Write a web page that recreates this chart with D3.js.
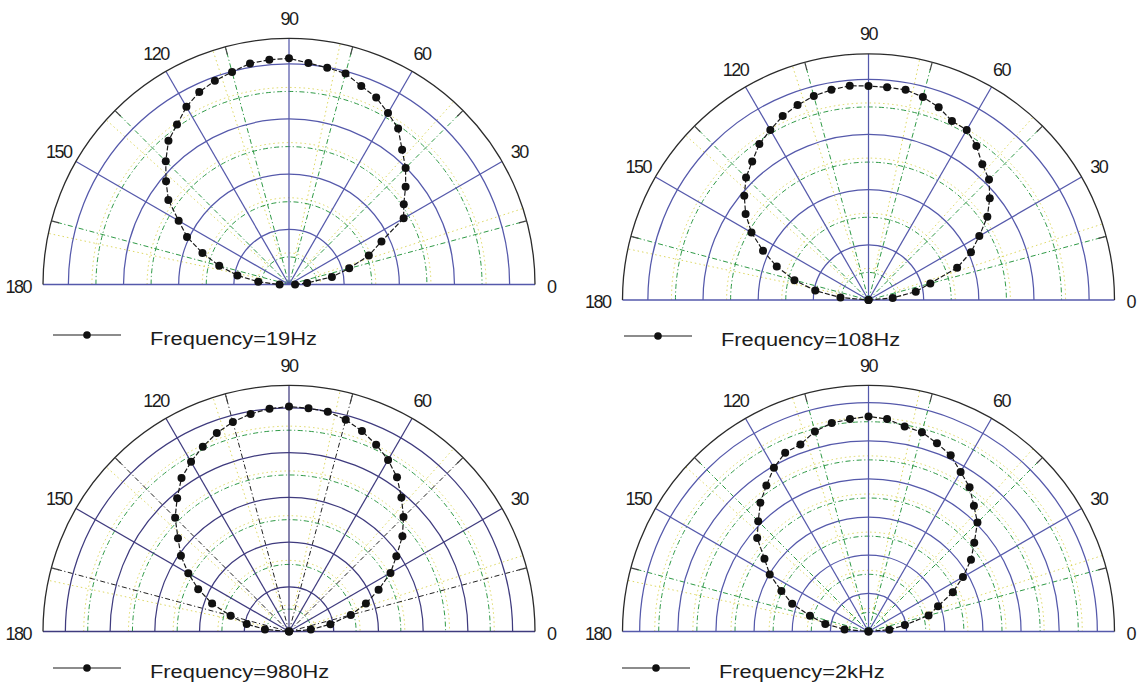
<!DOCTYPE html>
<html>
<head>
<meta charset="utf-8">
<script src="https://cdn.jsdelivr.net/npm/d3@7"></script>
<style>
  html, body { margin: 0; padding: 0; background: #fff; }
  svg { display: block; }
  text { font-family: "Liberation Sans", Arial, sans-serif; fill: #1c1c1c; }
</style>
</head>
<body>
<svg id="chart" width="1140" height="686"></svg>
<script>
// measurement angles (degrees)
var angles = [0, 5, 10, 15, 20, 25, 30, 35, 40, 45, 50, 55, 60, 65, 70, 75, 80, 85, 90,
              95, 100, 105, 110, 115, 120, 125, 130, 135, 140, 145, 150, 155, 160, 165, 170, 175, 180];
var angleTicks = [0, 30, 60, 90, 120, 150, 180];
var angleTickLabels = ["0", "30", "60", "90", "120", "150", "180"];
var minorAngles = [15, 45, 75, 105, 135, 165];

// radial grid of each panel (rings) and the outer limit
var rings19Hz = [1, 2, 3, 4], rMax19Hz = 4.46;
var rings108Hz = [1, 2, 3, 4], rMax108Hz = 4.46;
var rings980Hz = [1, 2, 3, 4, 5], rMax980Hz = 5.5;
var rings2kHz = [1, 2, 3, 4, 5, 6], rMax2kHz = 6.45;

var r19Hz = [0.11, 0.33, 0.79, 1.13, 1.54, 1.85, 2.40, 2.54, 2.76, 2.99, 3.19, 3.45, 3.59, 3.74, 3.83, 3.96, 3.99, 4.03, 4.10,
             4.09, 4.07, 3.99, 3.93, 3.85, 3.72, 3.54, 3.40, 3.16, 2.91, 2.67, 2.31, 2.04, 1.67, 1.31, 0.95, 0.56, 0.17];
var r108Hz = [0, 0.44, 0.87, 1.16, 1.71, 2.05, 2.32, 2.63, 2.87, 3.09, 3.21, 3.41, 3.56, 3.58, 3.72, 3.81, 3.87, 3.87, 3.88,
              3.90, 3.87, 3.83, 3.76, 3.68, 3.56, 3.45, 3.28, 3.14, 2.94, 2.72, 2.45, 2.11, 1.77, 1.39, 0.98, 0.51, 0];
var r980Hz = [0, 0.49, 0.94, 1.43, 1.83, 2.21, 2.62, 2.93, 3.31, 3.62, 3.91, 4.21, 4.43, 4.61, 4.77, 4.90, 4.99, 5.01, 5.03,
              5.00, 4.94, 4.85, 4.72, 4.56, 4.38, 4.19, 3.89, 3.60, 3.24, 2.95, 2.60, 2.24, 1.83, 1.35, 0.96, 0.54, 0];
var r2kHz = [0, 0.55, 0.97, 1.63, 1.94, 2.44, 2.86, 3.28, 3.62, 4.04, 4.30, 4.62, 4.83, 5.10, 5.25, 5.41, 5.46, 5.59, 5.64,
             5.59, 5.55, 5.43, 5.22, 5.17, 4.96, 4.67, 4.41, 4.09, 3.81, 3.33, 2.99, 2.52, 2.13, 1.59, 1.15, 0.63, 0];

var legendNames = ["Frequency=19Hz", "Frequency=108Hz", "Frequency=980Hz", "Frequency=2kHz"];

var svg = d3.select("#chart");
var R = 246;

function renderPolar(opts) {
    var g = svg.append("g")
        .attr("transform", "translate(" + opts.cx + "," + opts.cy + ")");

    var r = d3.scaleLinear().domain([0, opts.rMax]).range([0, R]);
    // polar angle (ccw from +x) -> d3 radial angle (cw from top)
    var toRad = function(deg) { return (90 - deg) * Math.PI / 180; };
    var spoke = d3.lineRadial()
        .angle(function(d) { return toRad(d[0]); })
        .radius(function(d) { return d[1]; });
    var halfCircle = function(rad) {
        var p = d3.path();
        p.arc(0, 0, rad, Math.PI, 2 * Math.PI);
        return p.toString();
    };
    var half = opts.rings.map(function(v) { return v - 0.5; });

    // faint yellow dotted grid
    g.selectAll(".ydot-ring").data(half).enter().append("path")
        .attr("d", function(v) { return halfCircle(r(v) + 4); })
        .attr("fill", "none").attr("stroke", "#d9d24f").attr("stroke-width", 0.9)
        .attr("stroke-dasharray", "1.5,3");
    g.selectAll(".ydot-spoke").data(minorAngles).enter().append("path")
        .attr("d", function(a) { return spoke([[a + 3, r(0.5)], [a + 3, R]]); })
        .attr("stroke", "#d9d24f").attr("stroke-width", 0.9)
        .attr("stroke-dasharray", "1.5,3");

    // green dash-dot minor grid
    g.selectAll(".g-ring").data(half).enter().append("path")
        .attr("d", function(v) { return halfCircle(r(v)); })
        .attr("fill", "none").attr("stroke", "#2f9a46").attr("stroke-width", 1)
        .attr("stroke-dasharray", "5,2.5,1.2,2.5");
    g.selectAll(".g-spoke").data(minorAngles).enter().append("path")
        .attr("d", function(a) { return spoke([[a, 0], [a, R]]); })
        .attr("stroke", opts.spokeColor).attr("stroke-width", 1)
        .attr("stroke-dasharray", "5,2.5,1.2,2.5");

    // major grid: rings and spokes
    g.selectAll(".ring").data(opts.rings).enter().append("path")
        .attr("d", function(v) { return halfCircle(r(v)); })
        .attr("fill", "none").attr("stroke", opts.gridColor).attr("stroke-width", 1.25);
    g.selectAll(".spoke").data(angleTicks.slice(1, 6)).enter().append("path")
        .attr("d", function(a) { return spoke([[a, 0], [a, R]]); })
        .attr("stroke", opts.gridColor).attr("stroke-width", 1.25);
    g.append("path")
        .attr("d", spoke([[180, R], [0, 0], [0, R]]))
        .attr("fill", "none").attr("stroke", opts.gridColor).attr("stroke-width", 1.4);

    // outer boundary and its small ticks
    g.append("path")
        .attr("d", halfCircle(R))
        .attr("fill", "none").attr("stroke", "#2b2b2b").attr("stroke-width", 1.3);
    g.selectAll(".otick").data(minorAngles).enter().append("path")
        .attr("d", function(a) { return spoke([[a, R - 8], [a, R]]); })
        .attr("stroke", "#444").attr("stroke-width", 1.2);

    // angle labels
    g.selectAll(".alabel").data(angleTicks).enter().append("text")
        .attr("x", function(a) {
            var off = (a === 0 || a === 180) ? 12 : 20;
            return (R + off) * Math.cos(a * Math.PI / 180);
        })
        .attr("y", function(a) { return -(R + 20) * Math.sin(a * Math.PI / 180) + (a === 0 || a === 180 ? 2 : 0); })
        .attr("text-anchor", function(a) { return a === 0 ? "start" : (a === 180 ? "end" : "middle"); })
        .attr("dominant-baseline", "central")
        .style("font-size", "18px")
        .style("letter-spacing", "-1.5px")
        .text(function(a, i) { return angleTickLabels[i]; });

    // data line + markers
    var pts = angles.map(function(a, i) { return [a, r(opts.values[i])]; });
    g.append("path")
        .attr("d", spoke(pts))
        .attr("fill", "none").attr("stroke", "#1a1a1a").attr("stroke-width", 1.2)
        .attr("stroke-dasharray", "5,2");
    g.selectAll(".pt").data(pts).enter().append("circle")
        .attr("cx", function(d) { return d[1] * Math.cos(d[0] * Math.PI / 180); })
        .attr("cy", function(d) { return -d[1] * Math.sin(d[0] * Math.PI / 180); })
        .attr("r", 4)
        .attr("fill", "#111");

    // legend
    var lg = svg.append("g").attr("transform", "translate(" + opts.lx + "," + opts.ly + ")");
    lg.append("line").attr("x1", 0).attr("x2", 68).attr("y1", 0).attr("y2", 0)
        .attr("stroke", "#1a1a1a").attr("stroke-width", 1.2);
    lg.append("circle").attr("cx", 34).attr("cy", 0).attr("r", 3.8).attr("fill", "#111");
    lg.append("text")
        .attr("transform", "translate(97,10) scale(1.15,1)")
        .style("font-size", "19px")
        .text(opts.name);
}

renderPolar({ cx: 289, cy: 284.5, rings: rings19Hz, rMax: rMax19Hz, values: r19Hz,
              gridColor: "#5559ab", spokeColor: "#2f9a46", lx: 53, ly: 335, name: legendNames[0] });
renderPolar({ cx: 868.5, cy: 300, rings: rings108Hz, rMax: rMax108Hz, values: r108Hz,
              gridColor: "#5559ab", spokeColor: "#2f9a46", lx: 624, ly: 336, name: legendNames[1] });
renderPolar({ cx: 289, cy: 631.5, rings: rings980Hz, rMax: rMax980Hz, values: r980Hz,
              gridColor: "#3f3b7e", spokeColor: "#222", lx: 53, ly: 668, name: legendNames[2] });
renderPolar({ cx: 868.5, cy: 631.5, rings: rings2kHz, rMax: rMax2kHz, values: r2kHz,
              gridColor: "#5559ab", spokeColor: "#2f9a46", lx: 622, ly: 668, name: legendNames[3] });
</script>
</body>
</html>
